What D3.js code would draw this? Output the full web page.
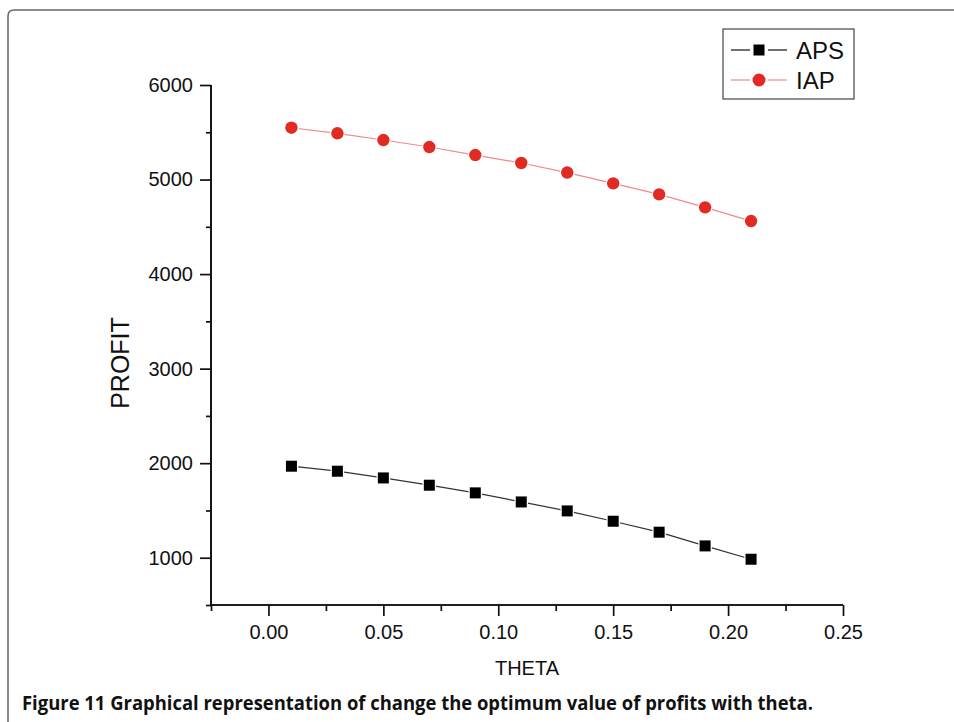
<!DOCTYPE html>
<html><head><meta charset="utf-8">
<script src="https://cdn.jsdelivr.net/npm/d3@7"></script>
<style>body{margin:0;background:#fff}svg{display:block}</style>
</head><body>
<script>
const theta = [0.01,0.03,0.05,0.07,0.09,0.11,0.13,0.15,0.17,0.19,0.21];
const aps = [1968,1915,1844,1767,1686,1590,1495,1386,1270,1125,984];
const iap = [5548,5489,5418,5344,5259,5175,5074,4960,4843,4706,4561];
const xTicks = [0.00,0.05,0.10,0.15,0.20,0.25];
const xMinor = [-0.025,0.025,0.075,0.125,0.175,0.225];
const yTicks = [1000,2000,3000,4000,5000,6000];
const yMinor = [500,1500,2500,3500,4500,5500];
const seriesNames = ["APS","IAP"];

const W=954,H=722;
const svg=d3.select("body").append("svg").attr("width",W).attr("height",H);
const font="'Liberation Sans', Arial, sans-serif";

// frame
svg.append("path").attr("d","M8,722 L8,16 Q8,10 14,10 L954,10")
  .attr("fill","none").attr("stroke","#666").attr("stroke-width",1.5);

const x=d3.scaleLinear().domain([-0.025,0.25]).range([211,843]);
const y=d3.scaleLinear().domain([500,6000]).range([605,85]);

// axes
const gx=svg.append("g").attr("transform","translate(0,605)");
gx.call(d3.axisBottom(x).tickValues(xTicks).tickSize(11).tickPadding(9).tickFormat(d3.format(".2f")));
gx.append("g").call(d3.axisBottom(x).tickValues(xMinor).tickSize(6).tickFormat(""));
const gy=svg.append("g").attr("transform","translate(211,0)");
gy.call(d3.axisLeft(y).tickValues(yTicks).tickSize(11).tickPadding(7).tickFormat(d3.format("d")));
gy.append("g").call(d3.axisLeft(y).tickValues(yMinor).tickSize(5).tickFormat(""));
svg.selectAll(".domain").attr("stroke","#111").attr("stroke-width",1.7);
svg.selectAll(".tick line").attr("stroke","#111").attr("stroke-width",1.7);
svg.selectAll(".tick text").attr("font-family",font).attr("font-size",20).attr("fill","#111");
gy.selectAll(".domain").attr("d","M0,"+y(500)+"V"+y(6000));
gx.selectAll(".domain").attr("d","M"+x(-0.025)+",0H"+x(0.25));

// axis labels
svg.append("text").attr("x",527).attr("y",675).attr("text-anchor","middle")
  .attr("font-family",font).attr("font-size",20).attr("fill","#111").text("THETA");
svg.append("text").attr("transform","translate(129,363) rotate(-90)").attr("text-anchor","middle")
  .attr("font-family",font).attr("font-size",25).attr("fill","#111").text("PROFIT");

// lines
const line=d3.line().x(d=>x(d[0])).y(d=>y(d[1]));
const apsData=theta.map((t,i)=>[t,aps[i]]);
const iapData=theta.map((t,i)=>[t,iap[i]]);
svg.append("path").datum(iapData).attr("d",line).attr("fill","none").attr("stroke","#f08a8a").attr("stroke-width",1.2);
svg.append("path").datum(apsData).attr("d",line).attr("fill","none").attr("stroke","#333").attr("stroke-width",1.2);
svg.selectAll(".iap").data(iapData).enter().append("circle")
  .attr("cx",d=>x(d[0])).attr("cy",d=>y(d[1])).attr("r",6.2)
  .attr("fill","#e02a22").attr("stroke","#fff").attr("stroke-width",2.5).attr("paint-order","stroke");
svg.selectAll(".aps").data(apsData).enter().append("rect")
  .attr("x",d=>x(d[0])-5.5).attr("y",d=>y(d[1])-5.5).attr("width",11).attr("height",11)
  .attr("fill","#000").attr("stroke","#fff").attr("stroke-width",2.5).attr("paint-order","stroke");

// legend
const lg=svg.append("g");
lg.append("rect").attr("x",723).attr("y",29).attr("width",131).attr("height",70)
  .attr("fill","#fff").attr("stroke","#444").attr("stroke-width",1.2);
const rows=[{n:seriesNames[0],yy:50,c:"#111",m:"sq"},{n:seriesNames[1],yy:80,c:"#f08a8a",m:"ci"}];
rows.forEach(r=>{
  lg.append("line").attr("x1",731).attr("x2",750).attr("y1",r.yy).attr("y2",r.yy).attr("stroke",r.c).attr("stroke-width",1.2);
  lg.append("line").attr("x1",768).attr("x2",787).attr("y1",r.yy).attr("y2",r.yy).attr("stroke",r.c).attr("stroke-width",1.2);
  if(r.m==="sq") lg.append("rect").attr("x",753.5).attr("y",r.yy-5.5).attr("width",11).attr("height",11).attr("fill","#000");
  else lg.append("circle").attr("cx",759).attr("cy",r.yy).attr("r",6.5).attr("fill","#e02a22");
  lg.append("text").attr("x",796).attr("y",r.yy+8.5).attr("font-family",font).attr("font-size",24).attr("fill","#111").text(r.n);
});

// caption
svg.append("text").attr("x",22).attr("y",710).attr("font-family","'Open Sans', 'Liberation Sans', sans-serif")
  .attr("font-weight","bold").attr("font-size",19).attr("fill","#111")
  .attr("textLength",791).attr("lengthAdjust","spacingAndGlyphs")
  .text("Figure 11 Graphical representation of change the optimum value of profits with theta.");
</script>
</body></html>
